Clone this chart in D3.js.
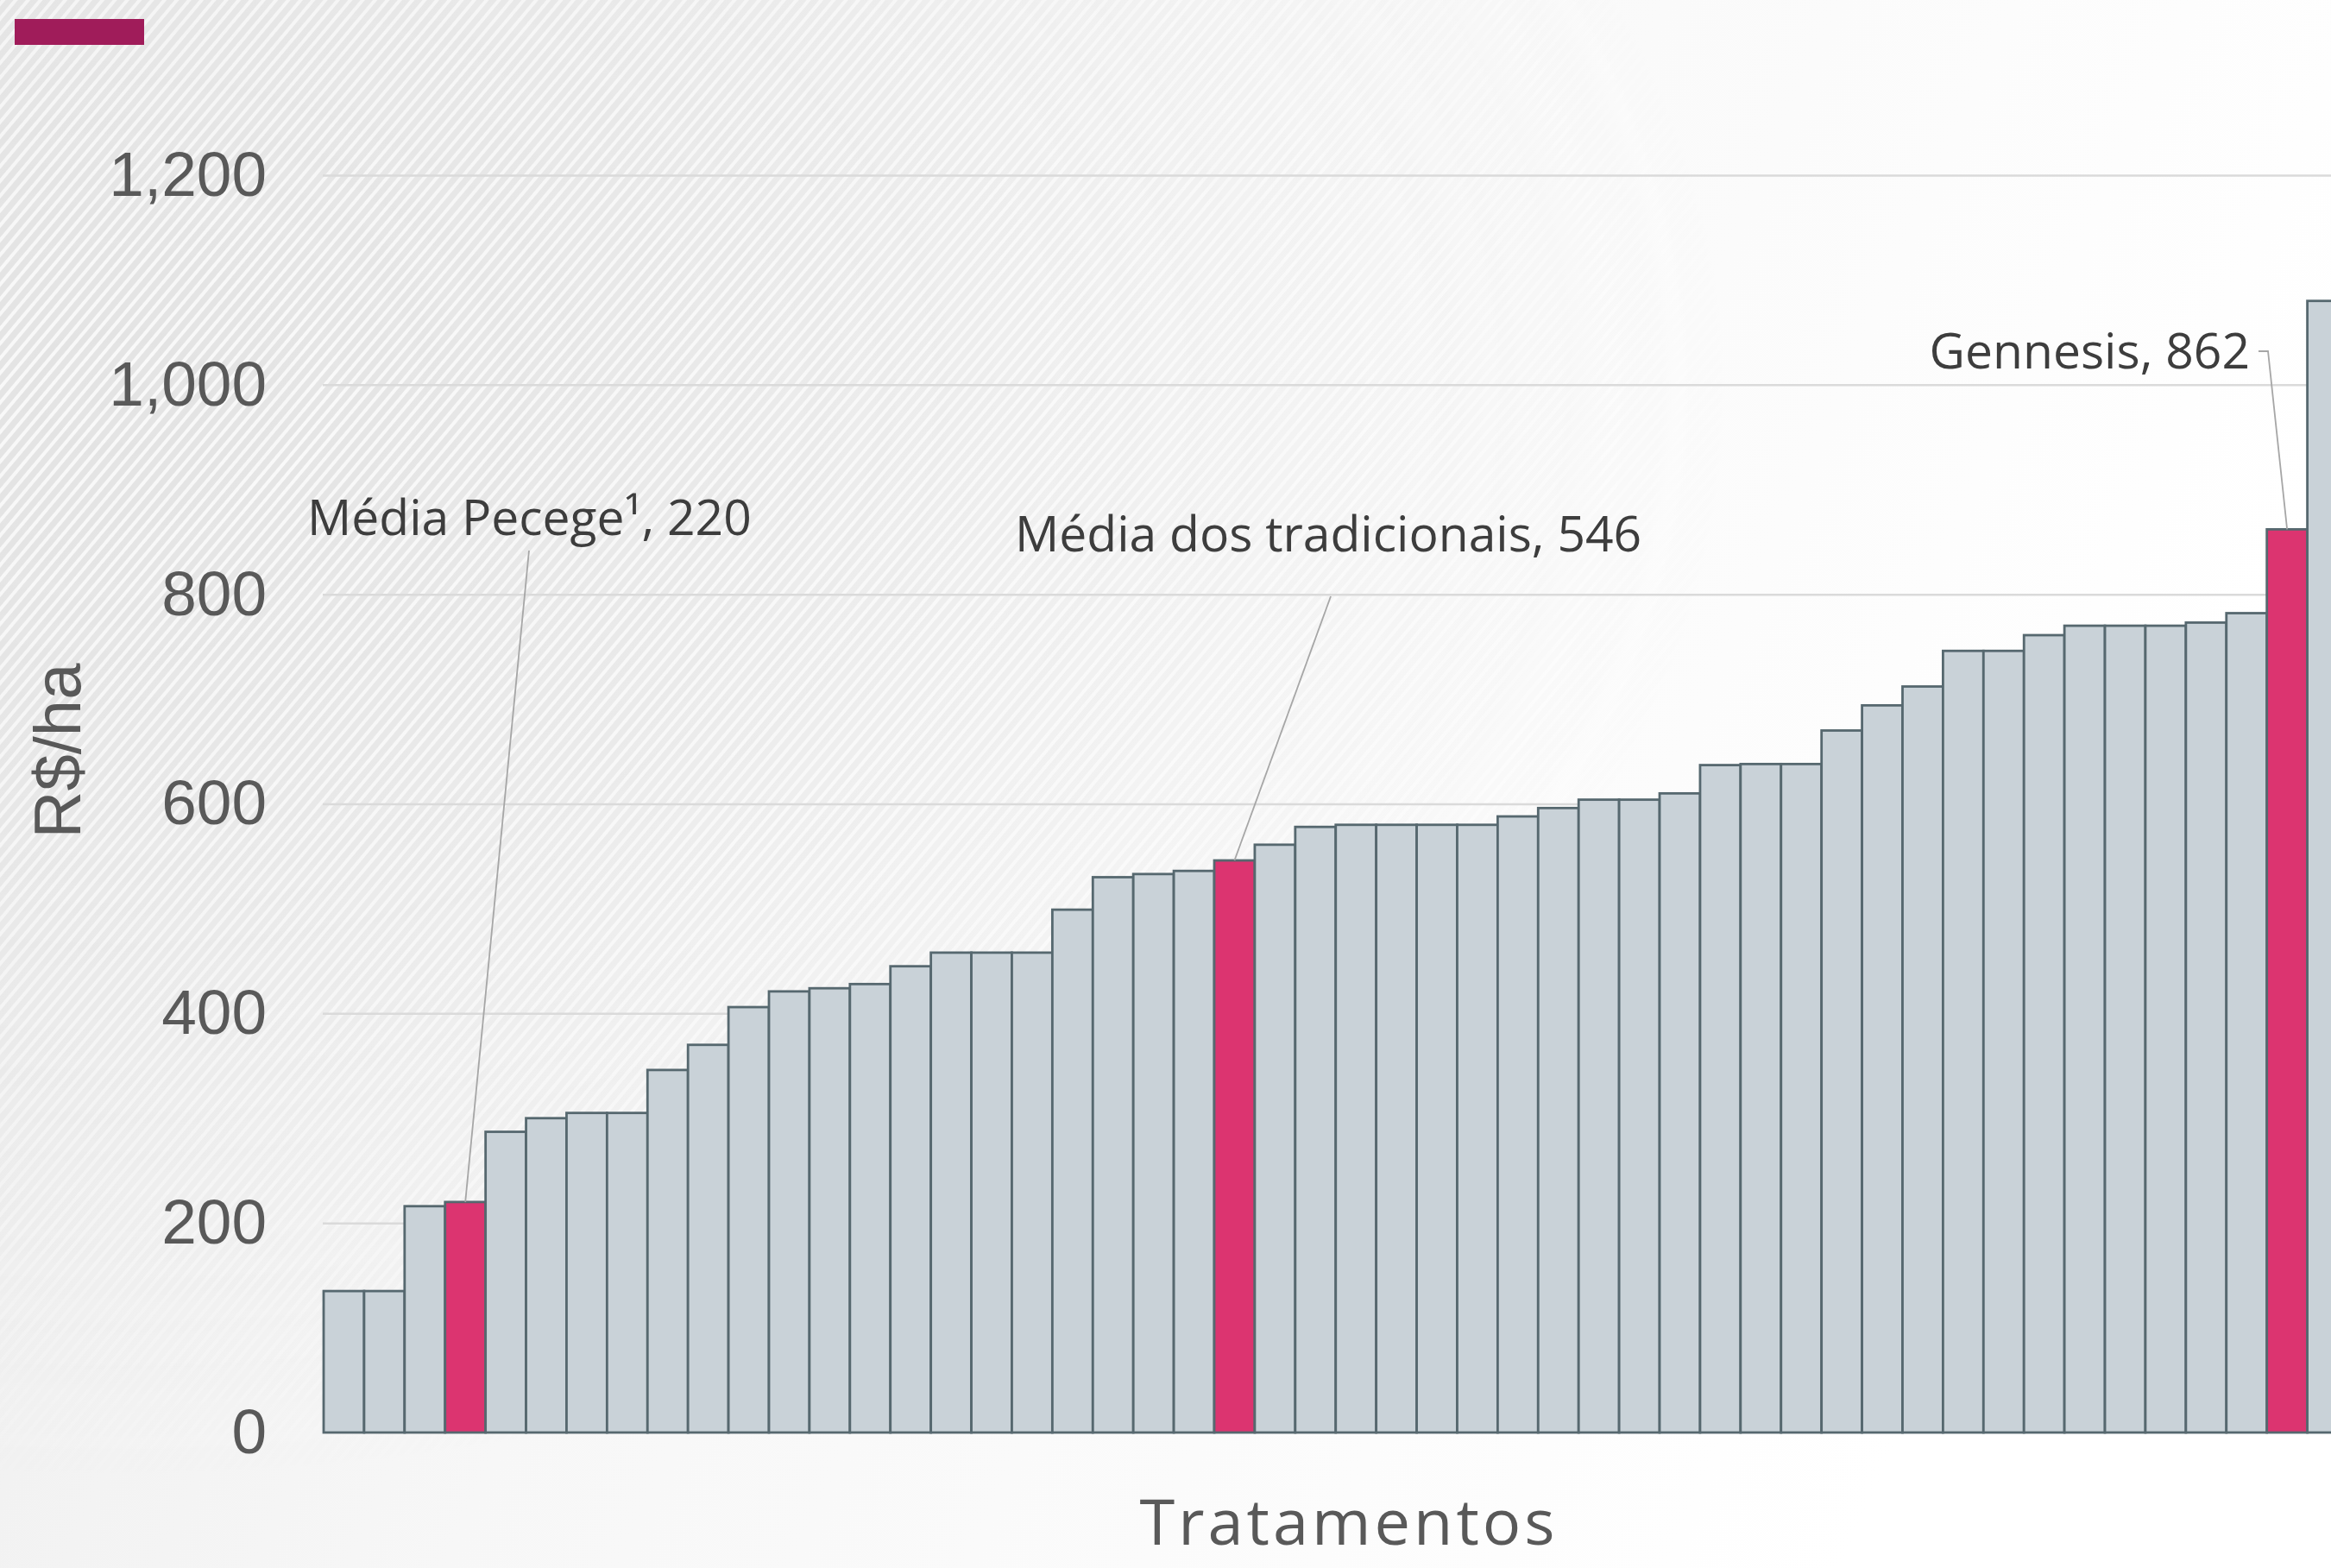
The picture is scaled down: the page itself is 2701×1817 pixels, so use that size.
<!DOCTYPE html>
<html>
<head>
<meta charset="utf-8">
<script src="https://cdn.jsdelivr.net/npm/d3@7"></script>
<style>
  html, body { margin: 0; padding: 0; overflow: hidden; background: #fff; }
  svg { display: block; }
</style>
</head>
<body>
<svg width="2701" height="1817"></svg>
<script>
// treatments sorted by cost (R$/ha)
let values = [135, 135, 216, 220, 287, 300, 305, 305, 346, 370,
  406, 421, 424, 428, 445, 458, 458, 458, 499, 530,
  533, 536, 546, 561, 578, 580, 580, 580, 580, 588,
  596, 604, 604, 610, 637, 638, 638, 670, 694, 712,
  746, 746, 761, 770, 770, 770, 773, 782, 862, 1080];
let highlighted = [3, 22, 48];
let yTicks = [0, 200, 400, 600, 800, 1000, 1200];
let annoIndex = [3, 22, 48];
let annoText = ["Média Pecege\u00b9, 220", "Média dos tradicionais, 546", "Gennesis, 862"];
let yTitle = "R$/ha";
let xTitle = "Tratamentos";

var svg = d3.select("svg"),
  width = +svg.attr("width"),
  height = +svg.attr("height");

let left = 375, baseY = 1660, topY = 203;
let barW = 46.91;

let defs = svg.append("defs");

// background
let bg = defs.append("linearGradient").attr("id", "bg").attr("x1", 0).attr("x2", 1).attr("y1", 0).attr("y2", 0.3);
bg.append("stop").attr("offset", "0").attr("stop-color", "#ebebeb");
bg.append("stop").attr("offset", "0.45").attr("stop-color", "#f7f7f7");
bg.append("stop").attr("offset", "1").attr("stop-color", "#ffffff");

let stripes = defs.append("pattern").attr("id", "stripes")
  .attr("width", 11).attr("height", 11)
  .attr("patternUnits", "userSpaceOnUse")
  .attr("patternTransform", "rotate(40)");
stripes.append("rect").attr("width", 11).attr("height", 11).attr("fill", "#e2e2e2");
stripes.append("line").attr("x1", 3).attr("x2", 3).attr("y1", 0).attr("y2", 11)
  .attr("stroke", "#fafafa").attr("stroke-width", 4);

let fade = defs.append("radialGradient").attr("id", "fade")
  .attr("cx", 0.05).attr("cy", 0.25).attr("r", 0.7);
fade.append("stop").attr("offset", "0").attr("stop-color", "#fff");
fade.append("stop").attr("offset", "0.45").attr("stop-color", "#999");
fade.append("stop").attr("offset", "1").attr("stop-color", "#000");
defs.append("mask").attr("id", "fadeMask")
  .append("rect").attr("width", width).attr("height", height).attr("fill", "url(#fade)");

svg.append("rect").attr("width", width).attr("height", height).attr("fill", "url(#bg)");
svg.append("rect").attr("width", width).attr("height", height)
  .attr("fill", "url(#stripes)").attr("mask", "url(#fadeMask)").attr("opacity", 0.9);

// top-left tag
svg.append("rect").attr("x", 17).attr("y", 22).attr("width", 150).attr("height", 30).attr("fill", "#a01c5a");

let x = d3.scaleBand()
  .domain(d3.range(values.length))
  .range([left, left + barW * values.length])
  .paddingInner(0).paddingOuter(0);

let y = d3.scaleLinear()
  .domain([0, 1200])
  .range([baseY, topY]);

// gridlines
svg.append("g")
  .attr("transform", "translate(" + (left - 1) + ",0)")
  .call(d3.axisLeft(y).tickValues(yTicks.filter(d => d > 0)).tickSize(-(width - left + 1)).tickFormat(""))
  .call(g => g.select(".domain").remove())
  .call(g => g.selectAll("line").attr("stroke", "#dadada").attr("stroke-width", 2.5));

// tick labels
svg.append("g")
  .attr("transform", "translate(" + left + ",0)")
  .call(d3.axisLeft(y).tickValues(yTicks).tickSize(0).tickPadding(66).tickFormat(d3.format(",")))
  .call(g => g.select(".domain").remove())
  .call(g => g.selectAll("text")
    .attr("fill", "#595959")
    .style("font-family", "'Liberation Sans', Arial, sans-serif")
    .style("font-size", "73px"));

// bars
svg.append("g").selectAll("rect").data(values)
  .enter().append("rect")
  .attr("x", (d, i) => x(i))
  .attr("y", d => y(d))
  .attr("width", x.bandwidth())
  .attr("height", d => y(0) - y(d))
  .attr("fill", (d, i) => highlighted.includes(i) ? "#dc3470" : "#c9d2d8")
  .attr("stroke", "#56686f")
  .attr("stroke-width", 2.8);

// annotations
let annoLayout = [
  { tx: 356, ty: 620, anchor: "start", path: [[613, 638]] },
  { tx: 1176, ty: 639, anchor: "start", path: [[1542, 691]] },
  { tx: 2607, ty: 427, anchor: "end", path: [[2617, 407], [2628, 407]] }
];

annoIndex.forEach(function (idx, k) {
  let lay = annoLayout[k];
  let pts = lay.path.concat([[x(idx) + x.bandwidth() / 2, y(values[idx])]]);
  svg.append("path")
    .attr("d", d3.line()(pts))
    .attr("fill", "none")
    .attr("stroke", "#a6a6a6")
    .attr("stroke-width", 1.8);
  svg.append("text")
    .attr("x", lay.tx)
    .attr("y", lay.ty)
    .attr("text-anchor", lay.anchor)
    .attr("fill", "#3d3d3d")
    .style("font-family", "'Open Sans', sans-serif")
    .style("font-size", "57px")
    .text(annoText[k]);
});

// axis titles
svg.append("text")
  .attr("transform", "translate(93,870) rotate(-90)")
  .attr("text-anchor", "middle")
  .attr("fill", "#595959")
  .style("font-family", "'Liberation Sans', Arial, sans-serif")
  .style("font-size", "76px")
  .text(yTitle);

svg.append("text")
  .attr("x", 1563)
  .attr("y", 1790)
  .attr("text-anchor", "middle")
  .attr("fill", "#595959")
  .style("font-family", "'Open Sans', sans-serif")
  .style("font-size", "74px")
  .style("letter-spacing", "4px")
  .text(xTitle);
</script>
</body>
</html>
